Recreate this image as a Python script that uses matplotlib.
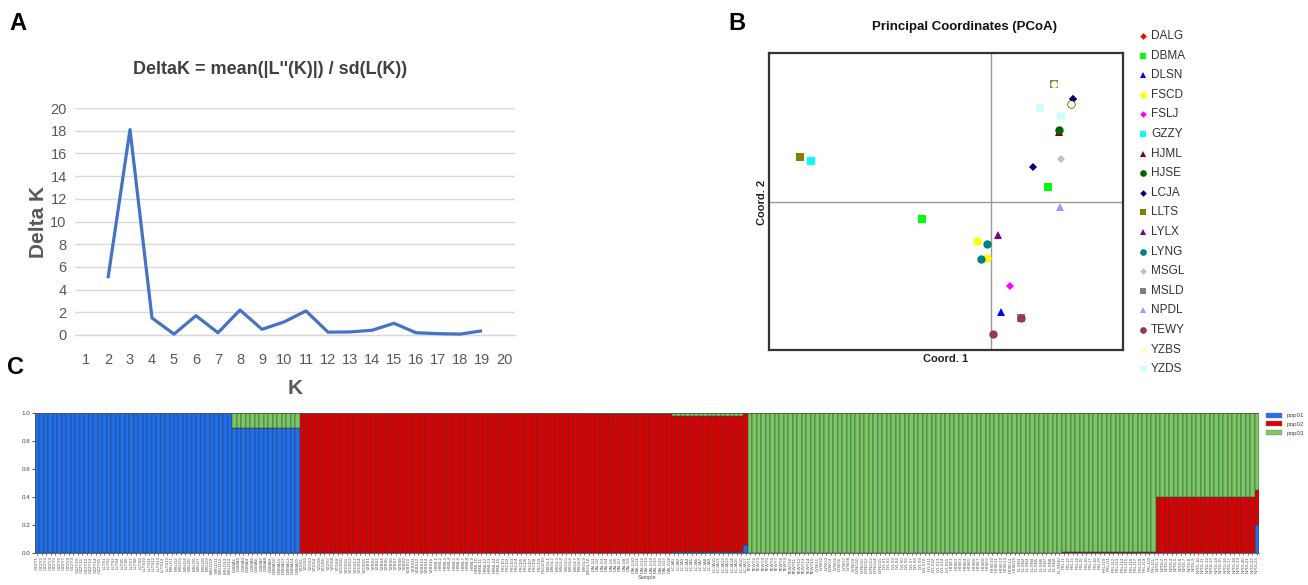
import numpy as np
import matplotlib
matplotlib.use("Agg")
import matplotlib.pyplot as plt
from matplotlib.lines import Line2D
from matplotlib.patches import Patch

W, H = 1308, 585
plt.rcParams['font.family'] = ['Liberation Sans', 'DejaVu Sans']

# ---------------- Panel A data ----------------
k_values = list(range(2, 20))
delta_k = [5.0, 18.1, 1.5, 0.08, 1.7, 0.2, 2.2, 0.5, 1.15, 2.12, 0.25, 0.27, 0.42, 1.03, 0.2, 0.12, 0.08, 0.37]
k_ticks = list(range(1, 21))

# ---------------- Panel B data ----------------
pcoa_pops = ["DALG", "DBMA", "DLSN", "FSCD", "FSLJ", "GZZY", "HJML", "HJSE", "LCJA",
             "LLTS", "LYLX", "LYNG", "MSGL", "MSLD", "NPDL", "TEWY", "YZBS", "YZDS"]
pcoa_pt_pop = ["LLTS", "GZZY", "DBMA", "DBMA", "FSCD", "FSCD", "LYNG", "LYNG", "LYLX",
               "FSLJ", "DLSN", "MSLD", "TEWY", "TEWY", "NPDL", "LCJA", "MSGL", "HJML",
               "HJSE", "HJSE", "YZDS", "YZDS", "DALG", "LCJA", "YZBS", "MSLD", "YZBS"]
pcoa_x = [-1.907, -1.800, -0.690, 0.573, -0.140, -0.037, -0.033, -0.097, 0.077,
          0.197, 0.100, 0.300, 0.300, 0.027, 0.693, 0.427, 0.707, 0.680,
          0.680, 0.800, 0.490, 0.707, 0.827, 0.827, 0.800, 0.633, 0.633]
pcoa_y = [0.443, 0.403, -0.173, 0.143, -0.390, -0.567, -0.423, -0.573, -0.333,
          -0.847, -1.107, -1.160, -1.167, -1.323, -0.057, 0.343, 0.423, 0.700,
          0.713, 0.973, 0.940, 0.860, 1.023, 1.023, 0.973, 1.180, 1.180]

# ---------------- Panel C data ----------------
group_sizes = [44, 15, 65, 18, 16, 1, 70, 21, 22, 1]
pop01 = [1.00, 0.89, 0.00, 0.00, 0.005, 0.055, 0.00, 0.00, 0.00, 0.20]
pop02 = [0.00, 0.00, 1.00, 0.99, 0.975, 0.945, 0.00, 0.01, 0.40, 0.25]
pop03 = [0.00, 0.11, 0.00, 0.01, 0.020, 0.000, 1.00, 0.99, 0.60, 0.55]
label_pops = ["GZZY", "LLTS", "MSLD", "DBMA", "YZDS", "YZBS", "HJML", "FSCD", "MSGL",
              "DALG", "LCJA", "TEWY", "LYNG", "LYLX", "HJSE", "DLSN", "FSLJ", "NPDL"]
label_counts = [15, 15, 14, 15, 15, 15, 15, 10, 10, 18, 17, 15, 15, 15, 15, 10, 21, 23]
pop_names = ["pop01", "pop02", "pop03"]

fig = plt.figure(figsize=(W / 100, H / 100), dpi=100)

def rect(x0, y0, x1, y1):
    return [x0 / W, 1 - y1 / H, (x1 - x0) / W, (y1 - y0) / H]

# ======== Panel A ========
axA = fig.add_axes(rect(75, 108, 515, 335))
axA.plot(k_values, delta_k, color='#4472C4', lw=2.3, solid_capstyle='butt', clip_on=False)
axA.set_xlim(0.5, 20.5)
axA.set_ylim(0, 20)
axA.set_yticks(range(0, 21, 2))
axA.set_xticks(k_ticks)
axA.grid(axis='y', color='#D9D9D9', lw=1)
axA.set_axisbelow(True)
for s in axA.spines.values():
    s.set_visible(False)
axA.axhline(0, color='#D9D9D9', lw=1, zorder=0, clip_on=False)
axA.tick_params(length=0, labelsize=10.5, labelcolor='#595959')
axA.tick_params(axis='x', pad=13)
axA.tick_params(axis='y', pad=6)
fig.text(270 / W, 1 - 70 / H, "DeltaK = mean(|L''(K)|) / sd(L(K))", ha='center', va='center',
         fontsize=13, fontweight='bold', color='#404040')
fig.text(38 / W, 1 - 222 / H, "Delta K", rotation=90, ha='center', va='center',
         fontsize=15, fontweight='bold', color='#595959')
fig.text(295 / W, 1 - 388 / H, "K", ha='center', va='center',
         fontsize=15, fontweight='bold', color='#595959')

# panel letters
fig.text(18 / W, 1 - 24 / H, "A", ha='center', va='center', fontsize=17, fontweight='bold')
fig.text(737 / W, 1 - 24 / H, "B", ha='center', va='center', fontsize=17, fontweight='bold')
fig.text(15 / W, 1 - 368 / H, "C", ha='center', va='center', fontsize=17, fontweight='bold')

# ======== Panel B ========
style = {
    "DALG": ('D', '#FF0000'), "DBMA": ('s', '#00FF00'), "DLSN": ('^', '#0000FF'),
    "FSCD": ('o', '#FFFF00'), "FSLJ": ('D', '#FF00FF'), "GZZY": ('s', '#00FFFF'),
    "HJML": ('^', '#8B0000'), "HJSE": ('o', '#006400'), "LCJA": ('D', '#000080'),
    "LLTS": ('s', '#808000'), "LYLX": ('^', '#800080'), "LYNG": ('o', '#008080'),
    "MSGL": ('D', '#C0C0C0'), "MSLD": ('s', '#808080'), "NPDL": ('^', '#9999FF'),
    "TEWY": ('o', '#993366'), "YZBS": ('o', '#FFFFCC'), "YZDS": ('s', '#CCFFFF'),
}
size = {'D': 4.2, 's': 5.5, '^': 6, 'o': 6}
axB = fig.add_axes(rect(769, 53, 1123, 350))
axB.set_xlim(-2.217, 1.323)
axB.set_ylim(-1.483, 1.487)
axB.axvline(0, color='#999999', lw=1, zorder=1)
axB.axhline(0, color='#999999', lw=1, zorder=1)
for i, (p, x, y) in enumerate(zip(pcoa_pt_pop, pcoa_x, pcoa_y)):
    m, c = style[p]
    ms = size[m]
    if p == "YZBS":
        ms = 5
    axB.plot([x], [y], marker=m, color=c, ms=ms, mew=0, ls='none', zorder=3 + i)
axB.set_xticks([])
axB.set_yticks([])
for s in axB.spines.values():
    s.set_linewidth(1.6)
    s.set_color('#333333')
fig.text(965 / W, 1 - 27 / H, "Principal Coordinates (PCoA)", ha='center', va='center',
         fontsize=9.5, fontweight='bold', color='#111111')
fig.text(946 / W, 1 - 359 / H, "Coord. 1", ha='center', va='center',
         fontsize=8, fontweight='bold', color='#222222')
fig.text(762 / W, 1 - 202 / H, "Coord. 2", ha='center', va='center', rotation=90,
         fontsize=8, fontweight='bold', color='#222222')
for j, p in enumerate(pcoa_pops):
    m, c = style[p]
    yy = 1 - (36 + j * 19.6) / H
    fig.add_artist(Line2D([1143 / W], [yy], marker=m, color=c, ms=size[m] * 0.8, mew=0, ls='none'))
    fig.text(1151 / W, yy, p, ha='left', va='center', fontsize=8.5, color='#333333')

# ======== Panel C ========
b1 = np.repeat(pop01, group_sizes)
b2 = np.repeat(pop02, group_sizes)
b3 = np.repeat(pop03, group_sizes)
n = len(b1)
xs = np.arange(n)
labels = [f"{p}{i + 1}" for p, c in zip(label_pops, label_counts) for i in range(c)][:n]
axC = fig.add_axes(rect(35, 413, 1259, 553))
ec = '#3a3a3a'
lw = 0.35
axC.bar(xs, b1, width=1, color='#1E6FF0', edgecolor=ec, linewidth=lw, label=pop_names[0])
axC.bar(xs, b2, width=1, bottom=b1, color='#DC0000', edgecolor=ec, linewidth=lw, label=pop_names[1])
axC.bar(xs, b3, width=1, bottom=b1 + b2, color='#78C864', edgecolor=ec, linewidth=lw, label=pop_names[2])
axC.set_xlim(-0.5, n - 0.5)
axC.set_ylim(0, 1)
axC.set_yticks([0, 0.2, 0.4, 0.6, 0.8, 1.0])
axC.set_yticklabels(["0.0", "0.2", "0.4", "0.6", "0.8", "1.0"])
axC.set_xticks(xs)
axC.set_xticklabels(labels, rotation=90, fontsize=3.2, color='#555555')
axC.tick_params(axis='y', labelsize=4.5, labelcolor='#444444', length=2, width=0.5, pad=1.5)
axC.tick_params(axis='x', length=1.5, width=0.4, pad=1)
for s in ['top', 'right']:
    axC.spines[s].set_visible(False)
for s in ['left', 'bottom']:
    axC.spines[s].set_linewidth(0.6)
    axC.spines[s].set_color('#555555')
axC.axhline(1.0, color='#555555', lw=0.6)
axC.set_xlabel("Sample", fontsize=4, color='#555555', labelpad=1)
handles = [Patch(facecolor=c, edgecolor='#888888', linewidth=0.3) for c in ['#1E6FF0', '#DC0000', '#78C864']]
axC.legend(handles, pop_names, loc='upper left', bbox_to_anchor=(1.004, 1.02), fontsize=4.5,
           frameon=False, handlelength=2.5, handleheight=0.9, labelspacing=0.45, borderaxespad=0,
           labelcolor='#444444')

fig.savefig("out.png", dpi=100)
